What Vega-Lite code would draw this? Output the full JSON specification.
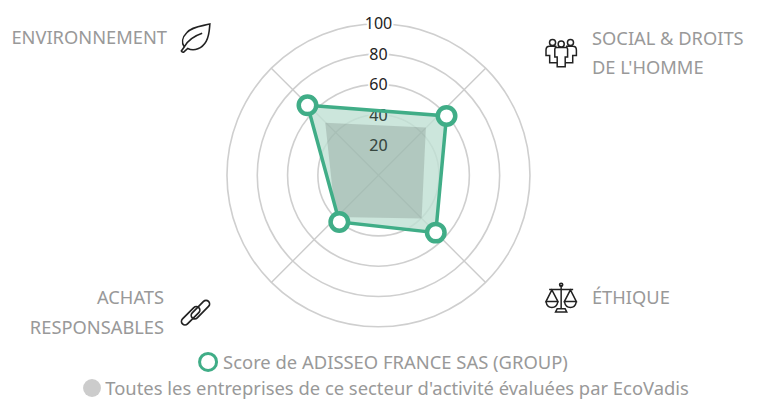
{
"$schema":"https://vega.github.io/schema/vega-lite/v6.json",
"width":758,"height":400,"padding":0,"autosize":{"type":"none"},
"background":"white",
"config":{"view":{"stroke":null},"font":"Noto Sans"},
"data":{"values":[
{"kind":"ring","angle":0,"radius":0,"value":40},
{"kind":"ring","angle":0,"radius":0,"value":60},
{"kind":"ring","angle":0,"radius":0,"value":80},
{"kind":"ring","angle":0,"radius":0,"value":100},
{"kind":"spoke","name":"a","angle":45,"radius":0,"ord":0},{"kind":"spoke","name":"a","angle":45,"radius":100,"ord":1},
{"kind":"spoke","name":"b","angle":135,"radius":0,"ord":0},{"kind":"spoke","name":"b","angle":135,"radius":100,"ord":1},
{"kind":"spoke","name":"c","angle":225,"radius":0,"ord":0},{"kind":"spoke","name":"c","angle":225,"radius":100,"ord":1},
{"kind":"spoke","name":"d","angle":315,"radius":0,"ord":0},{"kind":"spoke","name":"d","angle":315,"radius":100,"ord":1},
{"kind":"tick","label":"20","angle":0,"radius":20},
{"kind":"tick","label":"40","angle":0,"radius":40},
{"kind":"tick","label":"60","angle":0,"radius":60},
{"kind":"tick","label":"80","angle":0,"radius":80},
{"kind":"tick","label":"100","angle":0,"radius":100.7},
{"kind":"score","name":"ENVIRONNEMENT","angle":314.6,"radius":65.8,"ord":0},
{"kind":"score","name":"SOCIAL & DROITS DE L'HOMME","angle":48.9,"radius":59.6,"ord":1},
{"kind":"score","name":"ÉTHIQUE","angle":135,"radius":53.5,"ord":2},
{"kind":"score","name":"ACHATS RESPONSABLES","angle":220,"radius":40.2,"ord":3},
{"kind":"bench","name":"ENVIRONNEMENT","angle":314.7,"radius":49.4,"ord":0},
{"kind":"bench","name":"SOCIAL & DROITS DE L'HOMME","angle":44.7,"radius":44.5,"ord":1},
{"kind":"bench","name":"ÉTHIQUE","angle":135,"radius":40.3,"ord":2},
{"kind":"bench","name":"ACHATS RESPONSABLES","angle":226,"radius":39.5,"ord":3},
{"kind":"labelR","label":"ENVIRONNEMENT","angle":-56.9,"radius":166.6},
{"kind":"labelR","label":"ACHATS","angle":-119.6,"radius":162.8},
{"kind":"labelR","label":"RESPONSABLES","angle":-125.3,"radius":173.4},
{"kind":"labelL","label":"SOCIAL & DROITS","angle":57.3,"radius":167.5},
{"kind":"labelL","label":"DE L'HOMME","angle":63.3,"radius":157.7},
{"kind":"labelL","label":"ÉTHIQUE","angle":119.7,"radius":162.2},
{"kind":"legend","label":"Score de ADISSEO FRANCE SAS (GROUP)","angle":174.8,"radius":123.7},
{"kind":"legend","label":"Toutes les entreprises de ce secteur d'activité évaluées par EcoVadis","angle":175,"radius":140.9},
{"kind":"swatchScore","angle":-137.6,"radius":166.8},
{"kind":"swatchBench","angle":-126.6,"radius":235.5},
{"kind":"iconLeaf","angle":-53.1,"radius":150.8},
{"kind":"iconPeople","angle":56.4,"radius":144.8},
{"kind":"iconScale","angle":123.8,"radius":145.1},
{"kind":"iconLink","angle":-126.9,"radius":151}
]},
"transform":[
{"calculate":"datum.radius*sin(datum.angle*PI/180)","as":"px"},
{"calculate":"datum.radius*cos(datum.angle*PI/180)","as":"py"}
],
"encoding":{
"x":{"field":"px","type":"quantitative","axis":null,"scale":{"domain":[-249.8,250.5],"nice":false,"zero":false}},
"y":{"field":"py","type":"quantitative","axis":null,"scale":{"domain":[-148.3,115.7],"nice":false,"zero":false}}
},
"layer":[
{"transform":[{"filter":"datum.kind==='ring'"}],
 "mark":{"type":"point","filled":false,"stroke":"#cfcfcf","strokeWidth":1.6,"opacity":1},
 "encoding":{"size":{"field":"value","type":"quantitative","legend":null,"scale":{"type":"pow","exponent":2,"domain":[0,100],"range":[0,91809]}}}},
{"transform":[{"filter":"datum.kind==='spoke'"}],
 "mark":{"type":"line","stroke":"#cccccc","strokeWidth":1.4},
 "encoding":{"detail":{"field":"name"},"order":{"field":"ord"}}},
{"transform":[{"filter":"datum.kind==='tick'"}],
 "mark":{"type":"text","font":"Noto Sans","fontSize":16,"dy":1,"fill":"#222222","stroke":"white","strokeWidth":4,"align":"center","baseline":"middle"},
 "encoding":{"text":{"field":"label"}}},
{"transform":[{"filter":"datum.kind==='tick'"}],
 "mark":{"type":"text","font":"Noto Sans","fontSize":16,"dy":1,"fill":"#222222","align":"center","baseline":"middle"},
 "encoding":{"text":{"field":"label"}}},
{"transform":[{"filter":"datum.kind==='score'"}],
 "mark":{"type":"line","interpolate":"linear-closed","fill":"#bfe0d3","fillOpacity":0.8,"strokeOpacity":0},
 "encoding":{"order":{"field":"ord"}}},
{"transform":[{"filter":"datum.kind==='bench'"}],
 "mark":{"type":"line","interpolate":"linear-closed","fill":"#000000","fillOpacity":0.13,"strokeOpacity":0},
 "encoding":{"order":{"field":"ord"}}},
{"transform":[{"filter":"datum.kind==='tick' && datum.radius<=40"}],
 "mark":{"type":"text","font":"Noto Sans","fontSize":16,"dy":1,"fill":"#37473f","align":"center","baseline":"middle"},
 "encoding":{"text":{"field":"label"}}},
{"transform":[{"filter":"datum.kind==='score'"}],
 "mark":{"type":"line","interpolate":"linear-closed","stroke":"#40AD87","strokeWidth":3.5},
 "encoding":{"order":{"field":"ord"}}},
{"transform":[{"filter":"datum.kind==='score'"}],
 "mark":{"type":"point","filled":true,"fill":"white","stroke":"#40AD87","strokeWidth":4.5,"size":306,"opacity":1}},
{"transform":[{"filter":"datum.kind==='labelR'"}],
 "mark":{"type":"text","font":"Noto Sans","fontSize":18.3,"dy":1.5,"fill":"#999999","align":"right","baseline":"middle"},
 "encoding":{"text":{"field":"label"}}},
{"transform":[{"filter":"datum.kind==='labelL'"}],
 "mark":{"type":"text","font":"Noto Sans","fontSize":18.3,"dy":1.5,"fill":"#999999","align":"left","baseline":"middle"},
 "encoding":{"text":{"field":"label"}}},
{"transform":[{"filter":"datum.kind==='legend'"}],
 "mark":{"type":"text","font":"Noto Sans","fontSize":18.4,"dy":1.5,"fill":"#999999","align":"center","baseline":"middle"},
 "encoding":{"text":{"field":"label"}}},
{"transform":[{"filter":"datum.kind==='swatchScore'"}],
 "mark":{"type":"point","filled":false,"stroke":"#40AD87","strokeWidth":3,"size":289,"opacity":1}},
{"transform":[{"filter":"datum.kind==='swatchBench'"}],
 "mark":{"type":"point","filled":true,"fill":"#cccccc","size":320,"opacity":1}},
{"transform":[{"filter":"datum.kind==='iconLeaf'"}],
 "mark":{"type":"point","filled":false,"stroke":"#222222","strokeWidth":1.6,"opacity":1,"size":1024,
 "shape":"M0.88 -0.88 C0.4 -0.75 -0.2 -0.75 -0.55 -0.35 C-0.85 -0.05 -0.9 0.3 -0.72 0.55 L-0.9 0.8 Q-0.85 0.92 -0.72 0.85 L-0.5 0.65 C-0.1 0.85 0.4 0.65 0.65 0.2 C0.85 -0.15 0.85 -0.5 0.88 -0.88 Z M-0.72 0.55 C-0.5 0.15 -0.05 -0.15 0.4 -0.3"}},
{"transform":[{"filter":"datum.kind==='iconPeople'"}],
 "mark":{"type":"point","filled":false,"stroke":"#222222","strokeWidth":1.5,"opacity":1,"size":1024,
 "shape":"M-0.73 -0.71 a0.19 0.19 0 1 0 0.38 0 a0.19 0.19 0 1 0 -0.38 0 Z M-0.19 -0.62 a0.19 0.19 0 1 0 0.38 0 a0.19 0.19 0 1 0 -0.38 0 Z M0.39 -0.71 a0.19 0.19 0 1 0 0.38 0 a0.19 0.19 0 1 0 -0.38 0 Z M-0.4 -0.3 Q-0.4 -0.4 -0.3 -0.4 L0.3 -0.4 Q0.4 -0.4 0.4 -0.3 L0.4 0.2 L0.25 0.2 L0.25 0.8 L-0.25 0.8 L-0.25 0.2 L-0.4 0.2 Z M-0.3 -0.48 L-0.72 -0.48 Q-0.95 -0.48 -0.95 -0.25 L-0.95 0.1 L-0.72 0.1 L-0.72 0.55 L-0.25 0.55 M0.3 -0.48 L0.72 -0.48 Q0.95 -0.48 0.95 -0.25 L0.95 0.1 L0.72 0.1 L0.72 0.55 L0.25 0.55"}},
{"transform":[{"filter":"datum.kind==='iconScale'"}],
 "mark":{"type":"point","filled":false,"stroke":"#222222","strokeWidth":1.5,"opacity":1,"size":1024,
 "shape":"M0 -0.8 L0 0.7 M-0.1 -0.8 a0.1 0.1 0 1 0 0.2 0 a0.1 0.1 0 1 0 -0.2 0 Z M-0.35 0.9 L0.35 0.9 L0.25 0.7 L-0.25 0.7 Z M-0.75 -0.5 L0.75 -0.5 M-0.58 -0.48 L-0.95 0.25 L-0.2 0.25 Z M-0.95 0.25 Q-0.88 0.62 -0.58 0.62 Q-0.28 0.62 -0.2 0.25 M0.58 -0.48 L0.2 0.25 L0.95 0.25 Z M0.2 0.25 Q0.28 0.62 0.58 0.62 Q0.88 0.62 0.95 0.25"}},
{"transform":[{"filter":"datum.kind==='iconLink'"}],
 "mark":{"type":"point","filled":false,"stroke":"#222222","strokeWidth":1.7,"opacity":1,"size":1024,
 "shape":"M0.107 0.319 L0.813 -0.388 A0.22 0.22 0 0 0 0.501 -0.7 L-0.205 0.007 A0.22 0.22 0 0 0 0.107 0.319 Z M-0.107 -0.319 L-0.813 0.388 A0.22 0.22 0 0 0 -0.501 0.7 L0.205 -0.007 A0.22 0.22 0 0 0 -0.107 -0.319 Z"}}
]
}
